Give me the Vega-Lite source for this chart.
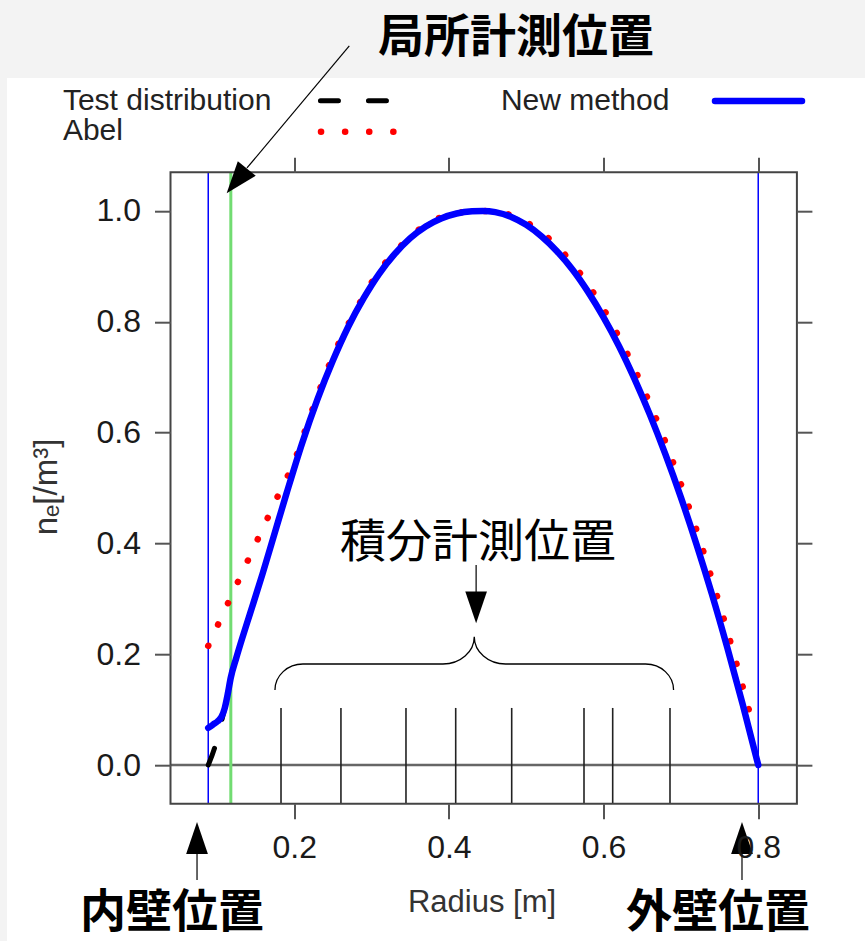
{
  "$schema": "https://vega.github.io/schema/vega-lite/v6.json",
  "width": 626.4,
  "height": 631.6,
  "autosize": {"type": "none"},
  "padding": {"left": 170.5, "top": 172.2, "right": 68.1, "bottom": 137.2},
  "background": "#f3f3f3",
  "config": {"view": {"stroke": null}},
  "data": {"values": [{}]},
  "datasets": {
    "newMethod": [
      {"r": 0.0888, "n": 0.067}, {"r": 0.095, "n": 0.073}, {"r": 0.101, "n": 0.079},
      {"r": 0.106, "n": 0.087}, {"r": 0.110, "n": 0.102}, {"r": 0.114, "n": 0.128},
      {"r": 0.118, "n": 0.158}, {"r": 0.125, "n": 0.193}, {"r": 0.133, "n": 0.23},
      {"r": 0.143, "n": 0.274}, {"r": 0.159, "n": 0.345}, {"r": 0.175, "n": 0.42},
      {"r": 0.19, "n": 0.49}, {"r": 0.21, "n": 0.58}, {"r": 0.23, "n": 0.66},
      {"r": 0.25, "n": 0.73}, {"r": 0.27, "n": 0.7915}, {"r": 0.29, "n": 0.843},
      {"r": 0.31, "n": 0.887}, {"r": 0.33, "n": 0.9225}, {"r": 0.35, "n": 0.951},
      {"r": 0.37, "n": 0.972}, {"r": 0.39, "n": 0.9865}, {"r": 0.41, "n": 0.9954},
      {"r": 0.43, "n": 0.9994}, {"r": 0.444, "n": 1.0}, {"r": 0.46, "n": 0.998},
      {"r": 0.48, "n": 0.9898}, {"r": 0.5, "n": 0.975}, {"r": 0.52, "n": 0.954},
      {"r": 0.54, "n": 0.927}, {"r": 0.56, "n": 0.894}, {"r": 0.58, "n": 0.854},
      {"r": 0.6, "n": 0.808}, {"r": 0.62, "n": 0.756}, {"r": 0.64, "n": 0.697},
      {"r": 0.66, "n": 0.632}, {"r": 0.68, "n": 0.5605}, {"r": 0.7, "n": 0.483},
      {"r": 0.72, "n": 0.399}, {"r": 0.74, "n": 0.309}, {"r": 0.76, "n": 0.212},
      {"r": 0.78, "n": 0.109}, {"r": 0.8, "n": 0.0}
    ],
    "testDistribution": [
      {"r": 0.0888, "n": 0.0}, {"r": 0.0975, "n": 0.033}, {"r": 0.104, "n": 0.068},
      {"r": 0.110, "n": 0.102}, {"r": 0.114, "n": 0.128}, {"r": 0.118, "n": 0.158},
      {"r": 0.125, "n": 0.193}, {"r": 0.133, "n": 0.23}, {"r": 0.143, "n": 0.274},
      {"r": 0.159, "n": 0.345}, {"r": 0.175, "n": 0.42}, {"r": 0.19, "n": 0.49},
      {"r": 0.21, "n": 0.58}, {"r": 0.23, "n": 0.66}, {"r": 0.25, "n": 0.73},
      {"r": 0.27, "n": 0.7915}, {"r": 0.29, "n": 0.843}, {"r": 0.31, "n": 0.887},
      {"r": 0.33, "n": 0.9225}, {"r": 0.35, "n": 0.951}, {"r": 0.37, "n": 0.972},
      {"r": 0.39, "n": 0.9865}, {"r": 0.41, "n": 0.9954}, {"r": 0.43, "n": 0.9994},
      {"r": 0.444, "n": 1.0}, {"r": 0.46, "n": 0.998}, {"r": 0.48, "n": 0.9898},
      {"r": 0.5, "n": 0.975}, {"r": 0.52, "n": 0.954}, {"r": 0.54, "n": 0.927},
      {"r": 0.56, "n": 0.894}, {"r": 0.58, "n": 0.854}, {"r": 0.6, "n": 0.808},
      {"r": 0.62, "n": 0.756}, {"r": 0.64, "n": 0.697}, {"r": 0.66, "n": 0.632},
      {"r": 0.68, "n": 0.5605}, {"r": 0.7, "n": 0.483}, {"r": 0.72, "n": 0.399},
      {"r": 0.74, "n": 0.309}, {"r": 0.76, "n": 0.212}, {"r": 0.78, "n": 0.109},
      {"r": 0.8, "n": 0.0}
    ],
    "abel": [
      {"r": 0.0888, "n": 0.215}, {"r": 0.1, "n": 0.249}, {"r": 0.12, "n": 0.309},
      {"r": 0.14, "n": 0.369}, {"r": 0.16, "n": 0.429}, {"r": 0.18, "n": 0.489},
      {"r": 0.2, "n": 0.548}, {"r": 0.22, "n": 0.628}, {"r": 0.25, "n": 0.738},
      {"r": 0.28, "n": 0.822}, {"r": 0.31, "n": 0.892}, {"r": 0.34, "n": 0.94},
      {"r": 0.37, "n": 0.975}, {"r": 0.4, "n": 0.993}, {"r": 0.44, "n": 1.0},
      {"r": 0.48, "n": 0.993}, {"r": 0.5, "n": 0.98}, {"r": 0.52, "n": 0.961},
      {"r": 0.54, "n": 0.936}, {"r": 0.56, "n": 0.905}, {"r": 0.58, "n": 0.867},
      {"r": 0.6, "n": 0.823}, {"r": 0.62, "n": 0.772}, {"r": 0.64, "n": 0.715},
      {"r": 0.66, "n": 0.652}, {"r": 0.68, "n": 0.583}, {"r": 0.7, "n": 0.507},
      {"r": 0.72, "n": 0.425}, {"r": 0.74, "n": 0.336}, {"r": 0.76, "n": 0.242},
      {"r": 0.78, "n": 0.141}, {"r": 0.79, "n": 0.088}, {"r": 0.795, "n": 0.06}
    ],
    "chords": [
      {"r": 0.1829}, {"r": 0.2604}, {"r": 0.3445}, {"r": 0.4088},
      {"r": 0.4812}, {"r": 0.5747}, {"r": 0.6118}, {"r": 0.6859}
    ],
    "walls": [{"r": 0.0888, "wall": "内壁"}, {"r": 0.8, "wall": "外壁"}],
    "probe": [{"r": 0.118}]
  },
  "resolve": {"axis": {"x": "independent", "y": "independent"}},
  "layer": [
    {
      "mark": {"type": "rect", "fill": "#ffffff"},
      "encoding": {
        "x": {"datum": -0.1714, "type": "quantitative", "axis": null},
        "x2": {"datum": 1.2},
        "y": {"datum": -0.5, "type": "quantitative", "axis": null},
        "y2": {"datum": 1.2401}
      }
    },
    {
      "mark": {"type": "rule", "color": "#666666", "strokeWidth": 2.5},
      "encoding": {"y": {"datum": 0, "type": "quantitative", "axis": null}}
    },
    {
      "data": {"name": "chords"},
      "mark": {"type": "rule", "color": "#222222", "strokeWidth": 1.6},
      "encoding": {
        "x": {"field": "r", "type": "quantitative", "axis": null},
        "y": {"datum": -0.07, "type": "quantitative", "axis": null},
        "y2": {"datum": 0.103}
      }
    },
    {
      "data": {"name": "walls"},
      "mark": {"type": "rule", "color": "#0000ff", "strokeWidth": 1.5},
      "encoding": {
        "x": {
          "field": "r", "type": "quantitative",
          "axis": {"orient": "top", "values": [0.2, 0.4, 0.6, 0.8], "labels": false, "title": null,
                   "domain": false, "grid": false, "tickSize": 15, "tickWidth": 2, "tickColor": "#555555", "zindex": 1}
        }
      }
    },
    {
      "data": {"name": "probe"},
      "mark": {"type": "rule", "color": "#72dc72", "strokeWidth": 3},
      "encoding": {"x": {"field": "r", "type": "quantitative", "axis": null}}
    },
    {
      "data": {"name": "testDistribution"},
      "mark": {"type": "line", "color": "#000000", "strokeWidth": 5, "strokeDash": [18, 30], "strokeCap": "round", "interpolate": "monotone"},
      "encoding": {
        "x": {
          "field": "r", "type": "quantitative",
          "scale": {"domain": [0.04, 0.85], "nice": false, "zero": false},
          "axis": {"orient": "bottom", "values": [0.2, 0.4, 0.6, 0.8], "format": ".1f", "title": null,
                   "domain": false, "grid": false, "tickSize": 15, "tickWidth": 2, "tickColor": "#555555",
                   "labelFont": "Liberation Sans", "labelFontSize": 32, "labelColor": "#1a1a1a",
                   "labelPadding": 14, "labelFlush": false, "labelOverlap": false, "zindex": 1}
        },
        "y": {
          "field": "n", "type": "quantitative",
          "scale": {"domain": [-0.07, 1.07], "nice": false, "zero": false},
          "axis": {"orient": "left", "values": [0, 0.2, 0.4, 0.6, 0.8, 1.0], "format": ".1f", "title": null,
                   "domain": false, "grid": false, "tickSize": 16, "tickWidth": 2, "tickColor": "#555555",
                   "labelFont": "Liberation Sans", "labelFontSize": 32, "labelColor": "#1a1a1a",
                   "labelPadding": 14, "labelFlush": false, "labelOverlap": false, "zindex": 1}
        }
      }
    },
    {
      "data": {"name": "abel"},
      "mark": {"type": "line", "color": "#ff0000", "strokeWidth": 6.5, "strokeDash": [0.1, 23.4], "strokeCap": "round", "interpolate": "monotone"},
      "encoding": {
        "x": {"field": "r", "type": "quantitative", "axis": null},
        "y": {"field": "n", "type": "quantitative", "axis": null}
      }
    },
    {
      "data": {"name": "newMethod"},
      "mark": {"type": "line", "color": "#0000ff", "strokeWidth": 6.5, "strokeCap": "round", "strokeJoin": "round", "interpolate": "monotone"},
      "encoding": {
        "x": {"field": "r", "type": "quantitative", "axis": null},
        "y": {
          "field": "n", "type": "quantitative",
          "axis": {"orient": "right", "values": [0, 0.2, 0.4, 0.6, 0.8, 1.0], "labels": false, "title": null,
                   "domain": false, "grid": false, "tickSize": 15, "tickWidth": 2, "tickColor": "#555555", "zindex": 1}
        }
      }
    },
    {
      "mark": {"type": "rect", "fillOpacity": 0, "stroke": "#444444", "strokeWidth": 2},
      "encoding": {
        "x": {"datum": 0.04, "type": "quantitative", "axis": null},
        "x2": {"datum": 0.85},
        "y": {"datum": -0.07, "type": "quantitative", "axis": null},
        "y2": {"datum": 1.07}
      }
    },
    {
      "mark": {
        "type": "point", "filled": false, "opacity": 1, "stroke": "#000000", "strokeWidth": 1.3, "size": 40000,
        "shape": "M-1.993,0.533A0.28,0.26,0,0,1,-1.713,0.273L-0.313,0.273A0.313,0.273,0,0,0,0,0A0.313,0.273,0,0,0,0.313,0.273L1.713,0.273A0.28,0.26,0,0,1,1.993,0.533"
      },
      "encoding": {
        "x": {"datum": 0.4328, "type": "quantitative", "axis": null},
        "y": {"datum": 0.2316, "type": "quantitative", "axis": null}
      }
    },
    {
      "mark": {"type": "rule", "color": "#000000", "strokeWidth": 1.2},
      "encoding": {
        "x": {"datum": 0.2712, "type": "quantitative", "axis": null},
        "x2": {"datum": 0.1389},
        "y": {"datum": 1.298, "type": "quantitative", "axis": null},
        "y2": {"datum": 1.0776}
      }
    },
    {
      "mark": {"type": "rule", "color": "#000000", "strokeWidth": 1.2},
      "encoding": {
        "x": {"datum": 0.4352, "type": "quantitative", "axis": null},
        "y": {"datum": 0.361, "type": "quantitative", "axis": null},
        "y2": {"datum": 0.3}
      }
    },
    {
      "mark": {"type": "rule", "color": "#000000", "strokeWidth": 1.2},
      "encoding": {
        "x": {"datum": 0.0743, "type": "quantitative", "axis": null},
        "y": {"datum": -0.12, "type": "quantitative", "axis": null},
        "y2": {"datum": -0.2076}
      }
    },
    {
      "mark": {"type": "rule", "color": "#000000", "strokeWidth": 1.2},
      "encoding": {
        "x": {"datum": 0.779, "type": "quantitative", "axis": null},
        "y": {"datum": -0.12, "type": "quantitative", "axis": null},
        "y2": {"datum": -0.2076}
      }
    },
    {
      "mark": {"type": "point", "filled": true, "opacity": 1, "color": "#000000", "size": 4096, "angle": 39,
               "shape": "M0,0L-0.36,-1L0.36,-1Z"},
      "encoding": {
        "x": {"datum": 0.1126, "type": "quantitative", "axis": null},
        "y": {"datum": 1.032, "type": "quantitative", "axis": null}
      }
    },
    {
      "mark": {"type": "point", "filled": true, "opacity": 1, "color": "#000000", "size": 4020, "angle": 0,
               "shape": "M0,0L-0.342,-1L0.342,-1Z"},
      "encoding": {
        "x": {"datum": 0.4352, "type": "quantitative", "axis": null},
        "y": {"datum": 0.2558, "type": "quantitative", "axis": null}
      }
    },
    {
      "mark": {"type": "point", "filled": true, "opacity": 1, "color": "#000000", "size": 4096, "angle": 180,
               "shape": "M0,0L-0.34,-1L0.34,-1Z"},
      "encoding": {
        "x": {"datum": 0.0743, "type": "quantitative", "axis": null},
        "y": {"datum": -0.1029, "type": "quantitative", "axis": null}
      }
    },
    {
      "mark": {"type": "point", "filled": true, "opacity": 1, "color": "#000000", "size": 4096, "angle": 180,
               "shape": "M0,0L-0.34,-1L0.34,-1Z"},
      "encoding": {
        "x": {"datum": 0.779, "type": "quantitative", "axis": null},
        "y": {"datum": -0.1029, "type": "quantitative", "axis": null}
      }
    },
    {
      "mark": {"type": "text", "font": "Noto Sans CJK JP", "fontWeight": "bold", "fontSize": 46, "color": "#000000", "align": "center", "baseline": "middle"},
      "encoding": {
        "x": {"datum": 0.4867, "type": "quantitative", "axis": null},
        "y": {"datum": 1.3123, "type": "quantitative", "axis": null},
        "text": {"value": "局所計測位置"}
      }
    },
    {
      "mark": {"type": "text", "font": "Noto Sans CJK JP", "fontWeight": "normal", "fontSize": 46, "color": "#000000", "align": "center", "baseline": "middle"},
      "encoding": {
        "x": {"datum": 0.4376, "type": "quantitative", "axis": null},
        "y": {"datum": 0.4007, "type": "quantitative", "axis": null},
        "text": {"value": "積分計測位置"}
      }
    },
    {
      "mark": {"type": "text", "font": "Noto Sans CJK JP", "fontWeight": "bold", "fontSize": 46, "color": "#000000", "align": "center", "baseline": "middle"},
      "encoding": {
        "x": {"datum": 0.0419, "type": "quantitative", "axis": null},
        "y": {"datum": -0.2671, "type": "quantitative", "axis": null},
        "text": {"value": "内壁位置"}
      }
    },
    {
      "mark": {"type": "text", "font": "Noto Sans CJK JP", "fontWeight": "bold", "fontSize": 46, "color": "#000000", "align": "center", "baseline": "middle"},
      "encoding": {
        "x": {"datum": 0.748, "type": "quantitative", "axis": null},
        "y": {"datum": -0.2671, "type": "quantitative", "axis": null},
        "text": {"value": "外壁位置"}
      }
    },
    {
      "mark": {"type": "text", "font": "Liberation Sans", "fontSize": 30, "color": "#222222", "align": "left", "baseline": "middle"},
      "encoding": {
        "x": {"datum": -0.0991, "type": "quantitative", "axis": null},
        "y": {"datum": 1.1986, "type": "quantitative", "axis": null},
        "text": {"value": "Test distribution"}
      }
    },
    {
      "mark": {"type": "text", "font": "Liberation Sans", "fontSize": 30, "color": "#222222", "align": "left", "baseline": "middle"},
      "encoding": {
        "x": {"datum": -0.0991, "type": "quantitative", "axis": null},
        "y": {"datum": 1.1435, "type": "quantitative", "axis": null},
        "text": {"value": "Abel"}
      }
    },
    {
      "mark": {"type": "text", "font": "Liberation Sans", "fontSize": 30, "color": "#222222", "align": "left", "baseline": "middle"},
      "encoding": {
        "x": {"datum": 0.4673, "type": "quantitative", "axis": null},
        "y": {"datum": 1.1986, "type": "quantitative", "axis": null},
        "text": {"value": "New method"}
      }
    },
    {
      "mark": {"type": "rule", "color": "#000000", "strokeWidth": 5, "strokeDash": [18, 30], "strokeCap": "round"},
      "encoding": {
        "x": {"datum": 0.2339, "type": "quantitative", "axis": null},
        "x2": {"datum": 0.3198},
        "y": {"datum": 1.1991, "type": "quantitative", "axis": null}
      }
    },
    {
      "mark": {"type": "rule", "color": "#ff0000", "strokeWidth": 6.5, "strokeDash": [0.1, 24], "strokeCap": "round"},
      "encoding": {
        "x": {"datum": 0.2346, "type": "quantitative", "axis": null},
        "x2": {"datum": 0.3285},
        "y": {"datum": 1.1432, "type": "quantitative", "axis": null}
      }
    },
    {
      "mark": {"type": "rule", "color": "#0000ff", "strokeWidth": 6.5, "strokeCap": "round"},
      "encoding": {
        "x": {"datum": 0.7441, "type": "quantitative", "axis": null},
        "x2": {"datum": 0.8566},
        "y": {"datum": 1.1986, "type": "quantitative", "axis": null}
      }
    },
    {
      "mark": {"type": "text", "font": "Liberation Sans", "fontSize": 31, "color": "#333333", "align": "center", "baseline": "middle"},
      "encoding": {
        "x": {"datum": 0.4428, "type": "quantitative", "axis": null},
        "y": {"datum": -0.2491, "type": "quantitative", "axis": null},
        "text": {"value": "Radius [m]"}
      }
    },
    {
      "mark": {"type": "text", "font": "Liberation Sans", "fontSize": 33, "color": "#333333", "align": "center", "baseline": "middle", "angle": 270},
      "encoding": {
        "x": {"datum": -0.1197, "type": "quantitative", "axis": null},
        "y": {"datum": 0.5018, "type": "quantitative", "axis": null},
        "text": {"value": "nₑ[/m³]"}
      }
    }
  ]
}
